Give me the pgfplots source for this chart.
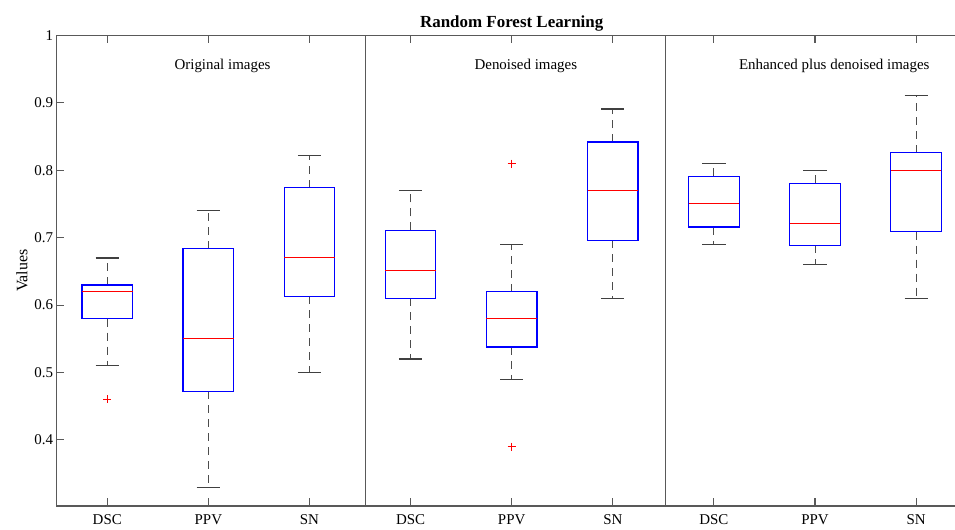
\documentclass[border=0pt]{standalone}
\usepackage{fontspec}
\setmainfont{Liberation Serif}
\usepackage{pgfplots}
\pgfplotsset{compat=1.18}
\usepgfplotslibrary{statistics}

\definecolor{mlblue}{rgb}{0,0,1}
\definecolor{mlred}{rgb}{1,0,0}
\definecolor{axgray}{gray}{0.35}

\pgfplotsset{
  mlbox/.style={
    boxplot/draw direction=y,
    boxplot/box extend=0.5,
    boxplot/whisker extend=0.23,
    boxplot/every box/.style={draw=mlblue, line width=1.2bp},
    boxplot/every median/.style={draw=mlred, line width=1.3bp},
    boxplot/draw/lower whisker/.code={%
      \draw[black!70, line width=1bp, dash pattern=on 8bp off 6bp]
        (boxplot whisker cs:\pgfplotsboxplotvalue{lower quartile},0.5) --
        (boxplot whisker cs:\pgfplotsboxplotvalue{lower whisker},0.5);
      \draw[black!75, line width=1.2bp]
        (boxplot whisker cs:\pgfplotsboxplotvalue{lower whisker},0) --
        (boxplot whisker cs:\pgfplotsboxplotvalue{lower whisker},1);
    },
    boxplot/draw/upper whisker/.code={%
      \draw[black!70, line width=1bp, dash pattern=on 8bp off 6bp]
        (boxplot whisker cs:\pgfplotsboxplotvalue{upper quartile},0.5) --
        (boxplot whisker cs:\pgfplotsboxplotvalue{upper whisker},0.5);
      \draw[black!75, line width=1.2bp]
        (boxplot whisker cs:\pgfplotsboxplotvalue{upper whisker},0) --
        (boxplot whisker cs:\pgfplotsboxplotvalue{upper whisker},1);
    },
    mark=+, mark size=4bp, mark options={draw=mlred, solid, line width=1.1bp},
  },
}

\begin{document}
\begin{tikzpicture}
\begin{axis}[
  name=ax,
  scale only axis,
  width=910bp, height=470.5bp,
  xmin=0.5, xmax=9.5,
  ymin=0.302, ymax=1,
  xtick={1,...,9},
  xticklabels={DSC,PPV,SN,DSC,PPV,SN,DSC,PPV,SN},
  ytick={0.4,0.5,0.6,0.7,0.8,0.9,1},
  yticklabels={0.4,0.5,0.6,0.7,0.8,0.9,1},
  tick align=inside,
  major tick length=7.5bp,
  tick style={axgray, line width=1.1bp},
  axis line style={axgray, line width=1.2bp},
  tick label style={font=\fontsize{15}{18}\selectfont},
  xticklabel style={yshift=-5bp},
  ylabel={Values},
  ylabel style={font=\fontsize{16}{19}\selectfont},
  title={Random Forest Learning},
  every axis title/.style={at={(0.5,1)}, anchor=south, inner sep=0pt, yshift=4.5bp,
    font=\bfseries\fontsize{17}{20}\selectfont},
  clip=false,
]
  % panel separators
  \addplot[axgray, line width=1.2bp] coordinates {(3.555,0.302) (3.555,1)};
  \addplot[axgray, line width=1.2bp] coordinates {(6.525,0.302) (6.525,1)};

  % Original images
  \addplot[mlbox, boxplot prepared={draw position=1,
    lower whisker=0.51, lower quartile=0.58, median=0.62,
    upper quartile=0.63, upper whisker=0.67}]
    table[row sep=\\, y index=0] {0.46\\};
  \addplot[mlbox, boxplot prepared={draw position=2,
    lower whisker=0.33, lower quartile=0.472, median=0.551,
    upper quartile=0.684, upper whisker=0.74}] coordinates {};
  \addplot[mlbox, boxplot prepared={draw position=3,
    lower whisker=0.50, lower quartile=0.613, median=0.671,
    upper quartile=0.774, upper whisker=0.822}] coordinates {};

  % Denoised images
  \addplot[mlbox, boxplot prepared={draw position=4,
    lower whisker=0.52, lower quartile=0.61, median=0.651,
    upper quartile=0.711, upper whisker=0.77}] coordinates {};
  \addplot[mlbox, boxplot prepared={draw position=5,
    lower whisker=0.49, lower quartile=0.538, median=0.58,
    upper quartile=0.62, upper whisker=0.69}]
    table[row sep=\\, y index=0] {0.81\\ 0.39\\};
  \addplot[mlbox, boxplot prepared={draw position=6,
    lower whisker=0.61, lower quartile=0.696, median=0.77,
    upper quartile=0.842, upper whisker=0.891}] coordinates {};

  % Enhanced plus denoised images
  \addplot[mlbox, boxplot prepared={draw position=7,
    lower whisker=0.69, lower quartile=0.716, median=0.751,
    upper quartile=0.791, upper whisker=0.81}] coordinates {};
  \addplot[mlbox, boxplot prepared={draw position=8,
    lower whisker=0.66, lower quartile=0.689, median=0.721,
    upper quartile=0.781, upper whisker=0.80}] coordinates {};
  \addplot[mlbox, boxplot prepared={draw position=9,
    lower whisker=0.61, lower quartile=0.709, median=0.80,
    upper quartile=0.826, upper whisker=0.911}] coordinates {};

  \node[font=\fontsize{15}{18}\selectfont] at (axis cs:2.14,0.955) {Original images};
  \node[font=\fontsize{15}{18}\selectfont] at (axis cs:5.14,0.955) {Denoised images};
  \node[font=\fontsize{15}{18}\selectfont] at (axis cs:8.19,0.955) {Enhanced plus denoised images};
\end{axis}
\pgfresetboundingbox
\path[use as bounding box] ([xshift=-56.7bp,yshift=-24bp]ax.south west)
  rectangle ([xshift=898.3bp,yshift=506bp]ax.south west);
\end{tikzpicture}
\end{document}
